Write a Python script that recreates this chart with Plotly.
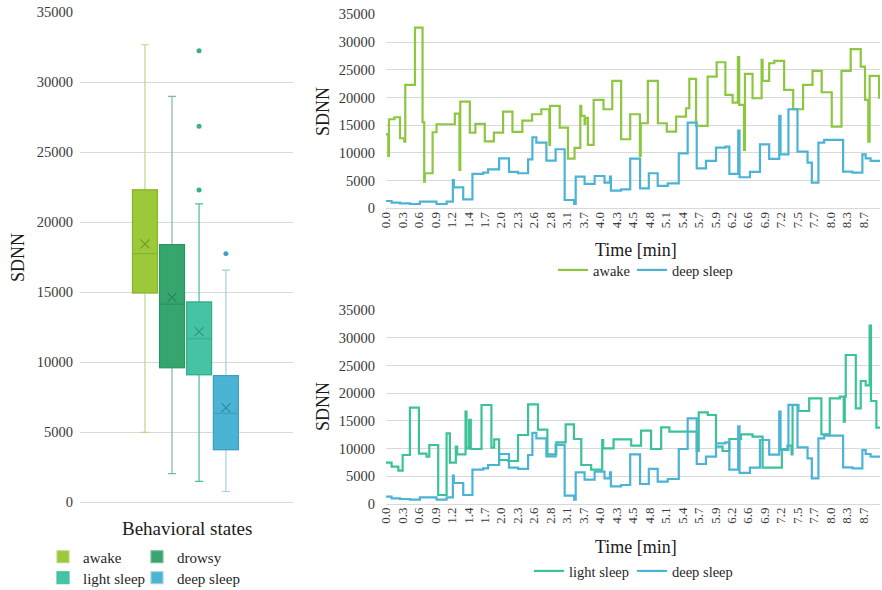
import plotly.graph_objects as go

# ---------------- data ----------------
TIME_LABELS = ["0.0", "0.3", "0.6", "0.9", "1.2", "1.4", "1.7", "2.0", "2.3", "2.6",
               "2.8", "3.1", "3.7", "4.0", "4.3", "4.5", "4.8", "5.1", "5.4", "5.7",
               "5.9", "6.2", "6.6", "6.9", "7.2", "7.5", "7.7", "8.0", "8.3", "8.7"]
X_END = 30  # end of the last category span (in label-index units)

states = ["awake", "drowsy", "light sleep", "deep sleep"]
box_q1 = [14940, 9590, 9100, 3740]
box_median = [17740, 14140, 11660, 6330]
box_q3 = [22290, 18390, 14270, 9020]
box_lower = [4980, 2020, 1480, 750]
box_upper = [32660, 28970, 21300, 16560]
box_mean = [18440, 14620, 12170, 6730]
outlier_state = ["light sleep", "light sleep", "light sleep", "deep sleep"]
outlier_val = [32230, 26840, 22290, 17740]

# step series: position (label-index units) where a level starts, and the level
awake_pos = [0.00, 0.14, 0.18, 0.51, 0.85, 1.11, 1.17, 1.76, 2.22, 2.32, 2.36, 2.83, 3.07, 4.18, 4.46,
             4.51, 5.09, 5.43, 6.00, 6.55, 7.11, 7.68, 8.28, 8.87, 9.43, 9.92, 9.96, 10.55, 11.05, 11.45,
             11.80, 11.86, 12.06, 12.10, 12.26, 12.61, 13.21, 13.74, 14.28, 14.83, 15.42, 15.47, 15.90,
             16.51, 17.05, 17.62, 18.22, 18.42, 18.83, 19.53, 20.08, 20.61, 21.05, 21.37, 21.45, 21.74,
             21.80, 22.26, 22.81, 22.87, 23.27, 23.58, 24.18, 24.73, 25.33, 25.90, 26.46, 27.07, 27.66,
             28.22, 28.83, 29.09, 29.29, 29.37, 29.94]
awake_val = [13350, 9440, 16070, 16430, 12640, 12030, 22260, 32610, 15520, 4810, 6320, 13720, 15160,
             17090, 6920, 19250, 13660, 15220, 12090, 13660, 17450, 13780, 15820, 16970, 17870, 11430,
             18470, 14560, 8960, 10890, 18470, 16670, 15220, 16300, 11430, 19550, 17870, 22990, 12460,
             16970, 9440, 15340, 22990, 15340, 13840, 16550, 18050, 23340, 14860, 23760, 26350, 20460,
             19070, 27260, 18650, 10530, 24250, 19850, 26780, 22990, 26170, 26590, 21360, 17870, 22260,
             24790, 20940, 14740, 24790, 28700, 25570, 19550, 12030, 23880, 19970]

deep_pos = [0.00, 0.34, 0.85, 1.45, 2.06, 3.07, 3.68, 4.06, 4.12, 4.69, 5.25, 5.90, 6.20, 6.87, 7.47,
            8.02, 8.63, 8.89, 9.13, 9.74, 10.30, 10.85, 11.43, 11.52, 12.06, 12.67, 13.27, 13.60, 13.66,
            14.28, 14.83, 15.43, 15.96, 16.50, 17.11, 17.78, 18.32, 18.87, 19.43, 20.04, 20.61, 20.85,
            21.39, 21.47, 22.10, 22.71, 23.27, 23.88, 23.96, 24.44, 24.99, 25.60, 25.86, 26.26, 26.61,
            27.76, 28.32, 28.93, 29.13, 29.43]
deep_val = [1320, 1020, 900, 780, 1200, 780, 1200, 5110, 3790, 1620, 6200, 6440, 7040, 9020, 6560,
            6320, 8840, 12820, 11850, 8600, 10650, 1500, 780, 5710, 4390, 5830, 4630, 5710, 3190,
            3430, 8960, 3610, 6320, 4030, 4510, 9920, 15460, 7220, 8540, 10950, 11130, 6200,
            14020, 5600, 6560, 11550, 8900, 16670, 9740, 17870, 10230, 8240, 4630, 11850, 12340,
            6620, 6440, 9740, 9020, 8540]

light_pos = [0.00, 0.34, 0.75, 1.01, 1.45, 2.00, 2.46, 2.63, 3.17, 3.68, 3.88, 4.24, 4.32, 4.83, 4.89,
             5.05, 5.15, 5.80, 6.40, 6.57, 6.87, 7.41, 8.02, 8.63, 9.23, 9.80, 10.34, 10.91, 11.41,
             11.86, 12.46, 13.13, 13.19, 13.82, 14.89, 15.49, 16.10, 16.71, 17.21, 18.87, 18.99,
             19.54, 20.04, 20.44, 20.85, 21.56, 22.26, 22.87, 24.04, 24.38, 24.63, 24.69, 25.05,
             25.70, 26.44, 26.95, 27.56, 27.80, 27.86, 27.92, 28.53, 28.83, 29.13, 29.37, 29.45, 29.78]
light_val = [7460, 6740, 6010, 8840, 17380, 9080, 8540, 10640, 1620, 12750, 7460, 10340, 8960, 16660,
             10040, 15160, 9920, 17860, 10160, 11670, 7940, 7760, 12450, 17980, 13410, 8960, 11130,
             14370, 11730, 7040, 6200, 11550, 10040, 11670, 10520, 13230, 9920, 13830, 13050, 9560,
             16540, 16060, 10340, 9560, 11730, 12570, 12150, 6560, 9920, 10520, 8960, 17860, 16780,
             19060, 12570, 19060, 19370, 14850, 19370, 26880, 17260, 22190, 21400, 32170, 18580, 13770]

# ---------------- style ----------------
FONT = "Liberation Serif, Times New Roman, serif"
GRID = "#D9D9D9"
TICK_COLOR = "#3a3a3a"
box_fill = ["#9BC93A", "#36A66E", "#46C3A2", "#4BB3D3"]
box_border = ["#86B42C", "#2C9460", "#37AE8D", "#3CA1C0"]
box_whisker = ["#BBD88A", "#7FB9A0", "#45BFA0", "#A2D0DD"]
box_meanc = ["#6F9A2A", "#23845A", "#2E9A7C", "#2F8FAE"]
BOX_POS = [0.305, 0.432, 0.559, 0.685]
BOX_W = 0.117
LINE_AWAKE = "#8DC63F"
LINE_DEEP = "#4BB4D6"
LINE_LIGHT = "#3CC29B"

# legend slots: (legend id, left px of entry, centre y px)
BOX_LEGENDS = [("legend", 43, 557), ("legend4", 137, 557), ("legend7", 43, 578), ("legend8", 137, 578)]

fig = go.Figure()

# ---- box plot ----
for i, s in enumerate(states):
    fig.add_trace(go.Box(
        x=[BOX_POS[i]], q1=[box_q1[i]], median=[box_median[i]], q3=[box_q3[i]],
        lowerfence=[box_lower[i]], upperfence=[box_upper[i]],
        width=BOX_W, fillcolor=box_fill[i], line=dict(color=box_whisker[i], width=1.2),
        whiskerwidth=0.32, boxpoints=False, name=s, legend=BOX_LEGENDS[i][0],
        xaxis="x", yaxis="y", hoverinfo="skip"))
    fig.add_trace(go.Box(
        x=[BOX_POS[i]], q1=[box_q1[i]], median=[box_median[i]], q3=[box_q3[i]],
        lowerfence=[box_q1[i]], upperfence=[box_q3[i]],
        width=BOX_W, fillcolor=box_fill[i], line=dict(color=box_border[i], width=1.2),
        whiskerwidth=0, boxpoints=False, showlegend=False,
        xaxis="x", yaxis="y", hoverinfo="skip"))
    fig.add_trace(go.Scatter(
        x=[BOX_POS[i]], y=[box_mean[i]], mode="markers",
        marker=dict(symbol="x-thin", size=9, line=dict(color=box_meanc[i], width=1.2)),
        showlegend=False, xaxis="x", yaxis="y", hoverinfo="skip"))

fig.add_trace(go.Scatter(
    x=[BOX_POS[states.index(s)] for s in outlier_state], y=outlier_val, mode="markers",
    marker=dict(size=5, color=[box_border[states.index(s)] for s in outlier_state]),
    showlegend=False, xaxis="x", yaxis="y", hoverinfo="skip"))


def step(pos, val):
    return list(pos) + [X_END], list(val) + [val[-1]]


def add_line(pos, val, name, color, ax, legend):
    xs, ys = step(pos, val)
    fig.add_trace(go.Scatter(
        x=xs, y=ys, mode="lines", line=dict(color=color, width=2.2, shape="hv"),
        name=name, xaxis="x" + ax, yaxis="y" + ax, legend=legend, hoverinfo="skip"))


add_line(awake_pos, awake_val, "awake", LINE_AWAKE, "2", "legend2")
add_line(deep_pos, deep_val, "deep sleep", LINE_DEEP, "2", "legend3")
add_line(light_pos, light_val, "light sleep", LINE_LIGHT, "3", "legend5")
add_line(deep_pos, deep_val, "deep sleep", LINE_DEEP, "3", "legend6")

LINE_LEGENDS = [("legend2", 553, 270), ("legend3", 632, 270), ("legend5", 529, 571), ("legend6", 632, 571)]

W, H = 882, 590


def px_x(v):
    return v / W


def px_y(v):
    return 1 - v / H


yax_common = dict(range=[0, 35000], dtick=5000, tickformat="d", showgrid=True, gridcolor=GRID,
                  gridwidth=1, zeroline=True, zerolinecolor=GRID, zerolinewidth=1, showline=False,
                  ticks="", automargin=False,
                  tickfont=dict(family=FONT, size=14.5, color=TICK_COLOR))
xline_common = dict(range=[0, X_END], tickmode="array", tickvals=list(range(len(TIME_LABELS))),
                    ticktext=TIME_LABELS, tickangle=-90, showgrid=False, zeroline=False,
                    showline=False, ticks="", automargin=False,
                    tickfont=dict(family=FONT, size=13, color=TICK_COLOR))

layout_legends = {}
for lid, lx, ly in BOX_LEGENDS:
    layout_legends[lid] = dict(orientation="h", x=px_x(lx), y=px_y(ly), xanchor="left",
                               yanchor="middle", font=dict(family=FONT, size=15, color="#262626"),
                               bgcolor="rgba(0,0,0,0)")
for lid, lx, ly in LINE_LEGENDS:
    layout_legends[lid] = dict(orientation="h", x=px_x(lx), y=px_y(ly), xanchor="left",
                               yanchor="middle", font=dict(family=FONT, size=14.5, color="#262626"),
                               bgcolor="rgba(0,0,0,0)")

fig.update_layout(
    width=W, height=H, margin=dict(l=0, r=0, t=0, b=0, autoexpand=False),
    paper_bgcolor="white", plot_bgcolor="white",
    font=dict(family=FONT, color="#262626"),
    xaxis=dict(domain=[px_x(80), px_x(293)], range=[0, 1], showticklabels=False, showgrid=False,
               zeroline=False, showline=False, ticks="", automargin=False),
    yaxis=dict(domain=[px_y(502), px_y(12)], ticklabelstandoff=6, **yax_common),
    xaxis2=dict(domain=[px_x(386), px_x(880)], anchor="y2", **xline_common),
    yaxis2=dict(domain=[px_y(208.3), px_y(14.3)], anchor="x2", ticklabelstandoff=10, **yax_common),
    xaxis3=dict(domain=[px_x(386), px_x(880)], anchor="y3", **xline_common),
    yaxis3=dict(domain=[px_y(504), px_y(310)], anchor="x3", ticklabelstandoff=10, **yax_common),
    showlegend=True,
    **layout_legends,
)

title_font = dict(family=FONT, size=18, color="#1a1a1a")
annos = [
    dict(text="SDNN", x=px_x(18), y=px_y(258), textangle=-90, font=title_font),
    dict(text="Behavioral states", x=px_x(187), y=px_y(528), font=dict(family=FONT, size=19, color="#1a1a1a")),
    dict(text="SDNN", x=px_x(323), y=px_y(112), textangle=-90, font=title_font),
    dict(text="SDNN", x=px_x(323), y=px_y(407), textangle=-90, font=title_font),
    dict(text="Time [min]", x=px_x(636), y=px_y(250), font=title_font),
    dict(text="Time [min]", x=px_x(636), y=px_y(547), font=title_font),
]
for a in annos:
    fig.add_annotation(xref="paper", yref="paper", showarrow=False, xanchor="center",
                       yanchor="middle", **a)

fig.write_html("out.html", config={"displayModeBar": False},
               post_script="document.body.style.margin='0px';")
